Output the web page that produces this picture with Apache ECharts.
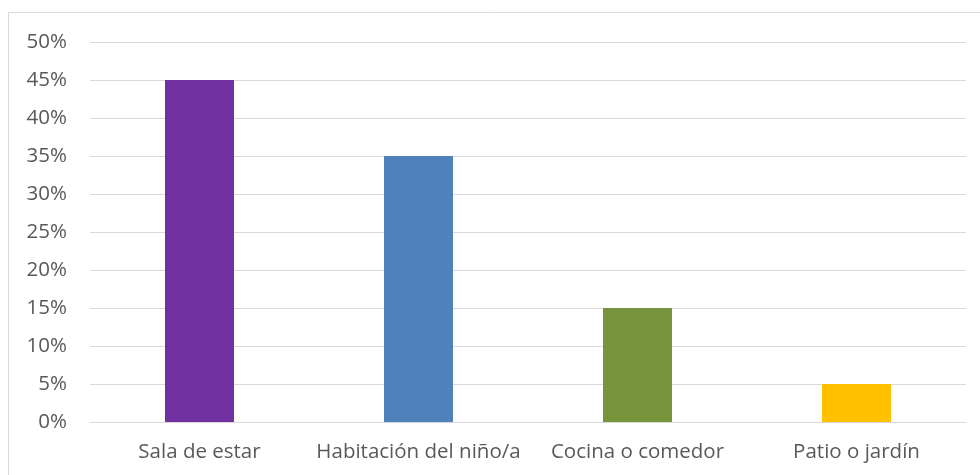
<!DOCTYPE html>
<html>
<head>
<meta charset="utf-8">
<script src="https://cdn.jsdelivr.net/npm/echarts@6/dist/echarts.min.js"></script>
<style>
  html, body { margin: 0; padding: 0; background: #fff; }
  #chart { width: 980px; height: 475px; }
</style>
</head>
<body>
<div id="chart"></div>
<script>
// datos
const categories = ['Sala de estar', 'Habitación del niño/a', 'Cocina o comedor', 'Patio o jardín']
const values = [45, 35, 15, 5]
const barColors = ['#7030A0', '#4F81BD', '#77933C', '#FFC000']

const chart = echarts.init(document.getElementById('chart'))

const option = {
  animation: false,
  textStyle: { fontFamily: '"Open Sans", "Noto Sans", sans-serif' },
  graphic: [{
    type: 'rect',
    shape: { x: 8.5, y: 12.5, width: 990, height: 500 },
    style: { fill: 'none', stroke: '#d9d9d9', lineWidth: 1 }
  }],
  grid: {
    left: 90,
    right: 14,
    top: 42,
    bottom: 53
  },
  xAxis: {
    type: 'category',
    data: categories,
    axisTick: { show: false },
    axisLine: { show: true, lineStyle: { color: '#d9d9d9', width: 1 } },
    axisLabel: {
      color: '#595959',
      fontSize: 20.5,
      margin: 20,
      interval: 0
    }
  },
  yAxis: {
    type: 'value',
    min: 0,
    max: 50,
    interval: 5,
    axisLine: { show: false },
    axisTick: { show: false },
    splitLine: { lineStyle: { color: '#d9d9d9', width: 1 } },
    axisLabel: {
      color: '#595959',
      fontSize: 20.5,
      margin: 23,
      formatter: v => v + '%'
    }
  },
  series: [{
    type: 'bar',
    barWidth: '31.5%',
    data: values.map((v, i) => ({
      value: v,
      itemStyle: { color: barColors[i] }
    }))
  }]
}

chart.setOption(option)
</script>
</body>
</html>
